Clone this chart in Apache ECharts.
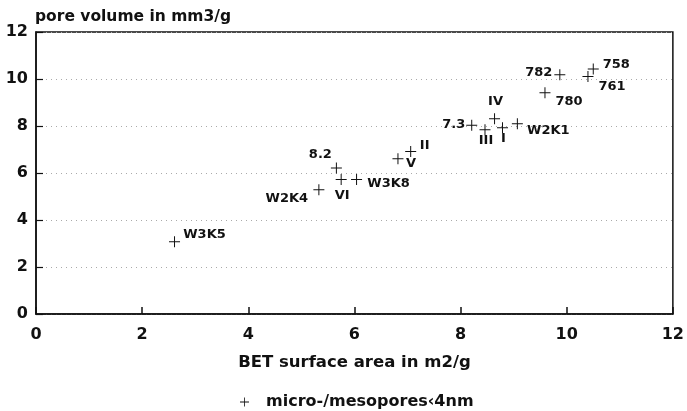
<!DOCTYPE html>
<html>
<head>
<meta charset="utf-8">
<script src="https://cdn.jsdelivr.net/npm/echarts@6/dist/echarts.min.js"></script>
<style>
  html, body { margin: 0; padding: 0; background: #fff; }
  #chart { width: 687px; height: 411px; }
</style>
</head>
<body>
<div id="chart"></div>
<script>
// Samples: BET surface area (m2/g) vs. pore volume (mm3/g)
const sampleNames = ['W3K5', 'W2K4', '8.2', 'VI', 'W3K8', 'V', 'II', '7.3', 'III', 'IV', 'I', 'W2K1', '780', '782', '761', '758'];
const surfaceArea = [2.61, 5.33, 5.66, 5.75, 6.04, 6.82, 7.06, 8.21, 8.46, 8.64, 8.79, 9.07, 9.59, 9.87, 10.40, 10.50];
const poreVolume = [3.07, 5.29, 6.21, 5.72, 5.72, 6.61, 6.91, 8.03, 7.84, 8.31, 7.93, 8.10, 9.41, 10.18, 10.11, 10.43];
const axisTicks = [0, 2, 4, 6, 8, 10, 12];

// where each sample label sits relative to its marker (text centre offset in px)
const labelOffset = {
  'W3K5': [30, -7], 'W2K4': [-32, 9], '8.2': [-16, -13], 'VI': [1, 16],
  'W3K8': [32, 4], 'V': [13, 5], 'II': [14, -6], '7.3': [-18, -1],
  'III': [1, 11], 'IV': [1, -17], 'I': [1, 11], 'W2K1': [31, 7],
  '780': [24, 9], '782': [-21, -2], '761': [24, 10], '758': [23, -4]
};

const FONT = 'DejaVu Sans';
const INK = '#111';
const plus = 'path://M0,4.55h10v0.9h-10z M4.55,0h0.9v10h-0.9z';

const points = sampleNames.map((n, i) => ({
  name: n,
  value: [surfaceArea[i], poreVolume[i]],
  label: { offset: labelOffset[n] }
}));

const chart = echarts.init(document.getElementById('chart'), null, { renderer: 'canvas' });
chart.setOption({
  animation: false,
  backgroundColor: '#fff',
  textStyle: { fontFamily: FONT },
  title: {
    text: 'pore volume in mm3/g',
    left: 30, top: 4,
    textStyle: { fontFamily: FONT, fontSize: 15.5, fontWeight: 'bold', color: INK }
  },
  grid: {
    left: 36, right: 12, top: 32, bottom: 97,
    show: true, borderColor: INK, borderWidth: 1.5, backgroundColor: 'transparent'
  },
  legend: {
    left: 235, top: 389,
    itemWidth: 9, itemHeight: 9, itemGap: 10,
    icon: plus,
    data: [{ name: 'micro-/mesopores‹4nm', itemStyle: { color: INK, opacity: 1 } }],
    textStyle: { fontFamily: FONT, fontSize: 16, fontWeight: 'bold', color: INK, padding: [0, 0, 0, 12] }
  },
  xAxis: {
    type: 'value',
    min: axisTicks[0], max: axisTicks[axisTicks.length - 1], interval: 2,
    name: 'BET surface area in m2/g',
    nameLocation: 'middle', nameGap: 40,
    nameTextStyle: { fontFamily: FONT, fontSize: 16.5, fontWeight: 'bold', color: INK },
    axisLine: { lineStyle: { color: INK, width: 1.5 } },
    axisTick: { inside: true, length: 7, lineStyle: { color: INK, width: 1.5 } },
    axisLabel: { fontFamily: FONT, fontSize: 16, fontWeight: 'bold', color: INK, margin: 13 },
    splitLine: { show: false }
  },
  yAxis: {
    type: 'value',
    min: axisTicks[0], max: axisTicks[axisTicks.length - 1], interval: 2,
    axisLine: { show: true, lineStyle: { color: INK, width: 1.5 } },
    axisTick: { show: true, inside: true, length: 7, lineStyle: { color: INK, width: 1.2 } },
    axisLabel: { fontFamily: FONT, fontSize: 16, fontWeight: 'bold', color: INK, margin: 8 },
    splitLine: { show: true, lineStyle: { color: '#aaa', width: 1, type: [1, 4] } }
  },
  series: [{
    name: 'micro-/mesopores‹4nm',
    type: 'scatter',
    symbol: plus,
    symbolSize: 11,
    itemStyle: { color: INK, opacity: 1 },
    label: {
      show: true,
      position: 'inside',
      align: 'center', verticalAlign: 'middle',
      formatter: p => p.name,
      fontFamily: FONT, fontSize: 13, fontWeight: 'bold', color: INK,
      textBorderWidth: 0
    },
    data: points
  }]
});
</script>
</body>
</html>
